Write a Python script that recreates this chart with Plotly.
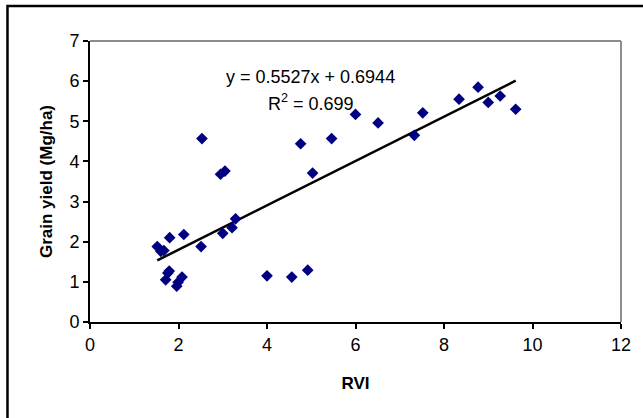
import plotly.graph_objects as go

rvi = [1.52, 1.60, 1.67, 1.80, 2.12, 1.71, 1.76, 1.79, 1.96, 1.99, 2.08, 2.51, 2.53,
       2.95, 3.05, 3.00, 3.21, 3.29, 4.00, 4.56, 4.92, 4.76, 5.03, 5.46, 6.00, 6.51,
       7.33, 7.52, 8.34, 8.77, 9.00, 9.27, 9.62]
grain_yield = [1.88, 1.76, 1.78, 2.10, 2.18, 1.05, 1.22, 1.27, 0.89, 0.99, 1.12, 1.88, 4.57,
               3.68, 3.76, 2.21, 2.35, 2.57, 1.15, 1.12, 1.29, 4.44, 3.71, 4.57, 5.17, 4.96,
               4.65, 5.21, 5.55, 5.85, 5.47, 5.63, 5.30]

slope = 0.5527
intercept = 0.6944
r_squared = 0.699

x_ticks = [0, 2, 4, 6, 8, 10, 12]
y_ticks = [0, 1, 2, 3, 4, 5, 6, 7]

trend_x = [min(rvi), max(rvi)]
trend_y = [slope * v + intercept for v in trend_x]

fig = go.Figure()
fig.add_trace(go.Scatter(x=trend_x, y=trend_y, mode="lines",
                         line=dict(color="black", width=2.5), showlegend=False,
                         hoverinfo="skip"))
fig.add_trace(go.Scatter(x=rvi, y=grain_yield, mode="markers",
                         marker=dict(symbol="diamond", size=9, color="#000080",
                                     line=dict(width=0)),
                         showlegend=False))

font_family = "Liberation Sans, Arial, sans-serif"

fig.update_layout(
    width=643, height=418,
    margin=dict(l=90, r=19, t=41, b=96),
    paper_bgcolor="white", plot_bgcolor="white",
    font=dict(family=font_family, size=18, color="black"),
    xaxis=dict(range=[0, 12], tickvals=x_ticks, ticks="outside", ticklen=5,
               tickwidth=1.5, tickcolor="black", showline=True, linecolor="black",
               linewidth=2, showgrid=False, zeroline=False, mirror=False,
               tickfont=dict(size=18),
               title=dict(text="<b>RVI</b>", font=dict(size=17), standoff=24)),
    yaxis=dict(range=[0, 7], tickvals=y_ticks, ticks="outside", ticklen=5,
               tickwidth=1.5, tickcolor="black", showline=True, linecolor="black",
               linewidth=2, showgrid=False, zeroline=False,
               tickfont=dict(size=18),
               title=dict(text="<b>Grain yield (Mg/ha)</b>", font=dict(size=17),
                          standoff=12)),
    shapes=[
        dict(type="line", xref="paper", yref="paper", x0=0, x1=1, y0=1, y1=1,
             line=dict(color="#8c8c8c", width=2)),
        dict(type="line", xref="paper", yref="paper", x0=1, x1=1, y0=0, y1=1,
             line=dict(color="#8c8c8c", width=2)),
        dict(type="rect", xref="paper", yref="paper", x0=-0.1554, x1=1.08,
             y0=-0.40, y1=1.1246, line=dict(color="black", width=2.5),
             fillcolor="rgba(0,0,0,0)"),
    ],
    annotations=[
        dict(x=4.99, y=6.1, xref="x", yref="y", showarrow=False,
             text=f"y = {slope}x + {intercept}", font=dict(size=18)),
        dict(x=4.99, y=5.48, xref="x", yref="y", showarrow=False,
             text=f"R<sup>2</sup> = {r_squared}", font=dict(size=18)),
    ],
)

fig.write_html("out.html", config={"displayModeBar": False},
               post_script="document.body.style.margin='0px';")
